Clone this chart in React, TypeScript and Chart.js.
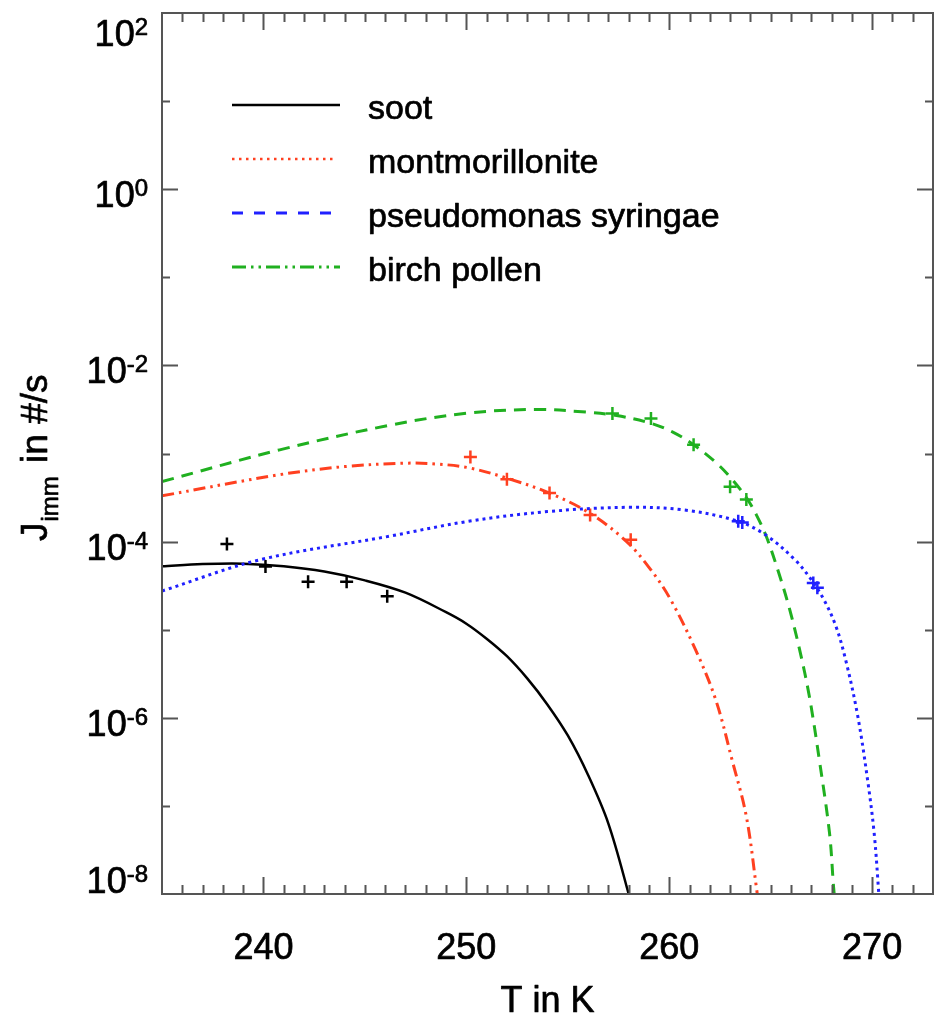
import React, { useEffect, useRef } from 'react';
import { Chart, registerables } from 'chart.js';

Chart.register(...registerables);

// ---------- data (T in K, J_imm in #/s) ----------
const sootCurveT = [235, 237, 239, 241, 243, 245, 247, 249, 250, 251, 252, 253, 254, 255, 256, 257, 258, 258.5];
const sootCurveJ = [5.25e-5, 5.56e-5, 5.62e-5, 5.25e-5, 4.57e-5, 3.63e-5, 2.63e-5, 1.58e-5, 1.17e-5, 7.9e-6, 5.0e-6, 2.8e-6, 1.41e-6, 6.3e-7, 2.24e-7, 6.3e-8, 1.0e-8, 3.5e-9];
const sootPointT = [238.2, 240.1, 242.2, 244.1, 246.1];
const sootPointJ = [9.4e-5, 5.2e-5, 3.5e-5, 3.5e-5, 2.4e-5];

const redCurveT = [235, 240.8, 244, 247, 248.5, 250.1, 252.0, 254.1, 256.1, 257.9, 259.0, 260.0, 261.3, 262.3, 263.1, 263.8, 264.3, 264.5];
const redCurveJ = [3.31e-4, 5.75e-4, 7.1e-4, 7.76e-4, 7.6e-4, 6.9e-4, 5.25e-4, 3.55e-4, 2.09e-4, 1.0e-4, 5.1e-5, 2.34e-5, 5.9e-6, 1.58e-6, 3.3e-7, 7.6e-8, 1.17e-8, 5e-9];
const redPointT = [250.2, 252.0, 254.1, 256.1, 258.1];
const redPointJ = [9.1e-4, 5.1e-4, 3.55e-4, 2.0e-4, 1.05e-4];

const greenCurveT = [235, 240.8, 246.2, 250.1, 253.5, 255.9, 257.4, 259.1, 260.2, 261.2, 262.3, 263.0, 263.8, 264.3, 264.8, 265.4, 265.9, 266.4, 266.9, 267.4, 267.9, 268.1, 268.25];
const greenCurveJ = [4.8e-4, 1.1e-3, 2.09e-3, 2.88e-3, 3.16e-3, 2.95e-3, 2.7e-3, 2.2e-3, 1.74e-3, 1.26e-3, 7.9e-4, 5.4e-4, 3.16e-4, 2.0e-4, 1.12e-4, 4.4e-5, 1.82e-5, 6.3e-6, 1.78e-6, 3.3e-7, 4.9e-8, 1.2e-8, 5e-9];
const greenPointT = [257.2, 259.1, 261.2, 263.0, 263.8];
const greenPointJ = [2.85e-3, 2.5e-3, 1.26e-3, 4.2e-4, 3.0e-4];

const blueCurveT = [235, 239.8, 246.2, 250.1, 254.0, 257.9, 260.7, 263.4, 264.8, 266.2, 267.0, 267.6, 268.2, 268.7, 269.3, 269.8, 270.1, 270.3, 270.4];
const blueCurveJ = [2.75e-5, 6.2e-5, 1.15e-4, 1.7e-4, 2.19e-4, 2.45e-4, 2.29e-4, 1.7e-4, 1.17e-4, 6.2e-5, 3.7e-5, 2.24e-5, 1.12e-5, 4.5e-6, 1.02e-6, 1.8e-7, 4.9e-8, 1.25e-8, 5e-9];
const bluePointT = [263.4, 263.6, 267.1, 267.3];
const bluePointJ = [1.7e-4, 1.65e-4, 3.4e-5, 3.0e-5];

const xTickLabels = [240, 250, 260, 270];
const yTickExponents = [2, 0, -2, -4, -6, -8];
const legendLabels = ['soot', 'montmorillonite', 'pseudomonas syringae', 'birch pollen'];

// ---------- styles ----------
const BLACK = '#000000';
const RED = '#ff4020';
const GREEN = '#20b020';
const BLUE = '#2020ff';
const AXIS = '#555555';
const FONT = '"Liberation Sans", Arial, Helvetica, sans-serif';

const legendStyles = [
  { color: BLACK, dash: [] as number[], width: 2.5, len: 108 },
  { color: RED, dash: [2.5, 4.5], width: 2.5, len: 103 },
  { color: BLUE, dash: [11, 11], width: 3, len: 101 },
  { color: GREEN, dash: [14, 5, 2.5, 5, 2.5, 5], width: 3, len: 108 },
];

const toXY = (t: number[], j: number[]) => t.map((x, i) => ({ x, y: j[i] }));

const curve = (t: number[], j: number[], color: string, dash: number[], width: number) => ({
  data: toXY(t, j),
  showLine: true,
  borderColor: color,
  backgroundColor: color,
  borderWidth: width,
  borderDash: dash,
  pointRadius: 0,
  tension: 0.35,
  clip: 0,
});

const marks = (t: number[], j: number[], color: string) => ({
  data: toXY(t, j),
  showLine: false,
  pointStyle: 'cross' as const,
  pointRadius: 6.5,
  pointBorderWidth: 2.5,
  borderColor: color,
  backgroundColor: color,
  clip: 0,
});

function heavyText(ctx: CanvasRenderingContext2D, s: string, x: number, y: number) {
  ctx.fillText(s, x, y);
  ctx.strokeText(s, x, y);
}

const framePlugin = {
  id: 'frameAndLabels',
  afterDraw(chart: any) {
    const ctx: CanvasRenderingContext2D = chart.ctx;
    const a = chart.chartArea;
    const xs = chart.scales.x;
    const ys = chart.scales.y;
    ctx.save();
    ctx.setLineDash([]);
    ctx.strokeStyle = AXIS;
    ctx.lineWidth = 2;
    ctx.lineCap = 'butt';
    ctx.strokeRect(a.left, a.top, a.right - a.left, a.bottom - a.top);

    // x ticks (inward, bottom and top)
    for (let t = Math.ceil(xs.min); t <= xs.max; t++) {
      const px = Math.round(xs.getPixelForValue(t)) + 0.5;
      if (px < a.left + 2 || px > a.right - 2) continue;
      const len = t % 10 === 0 ? 17 : 9;
      ctx.beginPath();
      ctx.moveTo(px, a.bottom);
      ctx.lineTo(px, a.bottom - len);
      ctx.moveTo(px, a.top);
      ctx.lineTo(px, a.top + len);
      ctx.stroke();
    }
    // y ticks (each decade; labelled decades longer)
    for (let e = -8; e <= 2; e++) {
      const py = Math.round(ys.getPixelForValue(Math.pow(10, e))) + 0.5;
      if (py < a.top + 2 || py > a.bottom - 2) continue;
      const len = e % 2 === 0 ? 16 : 8;
      ctx.beginPath();
      ctx.moveTo(a.left, py);
      ctx.lineTo(a.left + len, py);
      ctx.moveTo(a.right, py);
      ctx.lineTo(a.right - len, py);
      ctx.stroke();
    }

    ctx.fillStyle = '#000';
    ctx.strokeStyle = '#000';
    ctx.lineWidth = 0.7;
    ctx.lineJoin = 'round';
    // x tick labels
    ctx.font = `36px ${FONT}`;
    ctx.textAlign = 'center';
    ctx.textBaseline = 'alphabetic';
    xTickLabels.forEach((v) => {
      heavyText(ctx, String(v), xs.getPixelForValue(v), a.bottom + 65);
    });

    // y tick labels 10^e
    const xR = a.left - 14;
    yTickExponents.forEach((e) => {
      const py = ys.getPixelForValue(Math.pow(10, e));
      const cy = Math.min(Math.max(py + 5, a.top + 20), a.bottom - 14);
      const base = cy + 13;
      const expStr = String(e);
      ctx.font = `24px ${FONT}`;
      const wE = ctx.measureText(expStr).width;
      ctx.textAlign = 'right';
      heavyText(ctx, expStr, xR, base - 11);
      ctx.font = `36px ${FONT}`;
      heavyText(ctx, '10', xR - wE, base);
    });

    // x title
    ctx.font = `36px ${FONT}`;
    ctx.textAlign = 'center';
    heavyText(ctx, 'T in K', (a.left + a.right) / 2, 1012);

    // y title: J_imm in #/s
    ctx.save();
    ctx.translate(47, 541);
    ctx.rotate(-Math.PI / 2);
    ctx.textAlign = 'left';
    ctx.font = `37px ${FONT}`;
    heavyText(ctx, 'J', 0, 0);
    const wJ = ctx.measureText('J').width;
    ctx.font = `24px ${FONT}`;
    heavyText(ctx, 'imm', wJ + 1, 11);
    const wS = ctx.measureText('imm').width;
    ctx.font = `37px ${FONT}`;
    heavyText(ctx, ' in #/s', wJ + wS + 4, 0);
    ctx.restore();

    // legend
    legendLabels.forEach((lab, i) => {
      const st = legendStyles[i];
      const y = 105 + i * 54;
      ctx.save();
      ctx.strokeStyle = st.color;
      ctx.lineWidth = st.width;
      ctx.setLineDash(st.dash);
      ctx.beginPath();
      ctx.moveTo(232, y);
      ctx.lineTo(232 + st.len, y);
      ctx.stroke();
      ctx.restore();
      ctx.font = `34px ${FONT}`;
      ctx.textAlign = 'left';
      heavyText(ctx, lab, 368, y + 14);
    });
    ctx.restore();
  },
};

export default function App() {
  const ref = useRef<HTMLCanvasElement>(null);
  useEffect(() => {
    const prevMargin = document.body.style.margin;
    document.body.style.margin = '0';
    const chart = new Chart(ref.current as HTMLCanvasElement, {
      type: 'scatter',
      data: {
        datasets: [
          curve(blueCurveT, blueCurveJ, BLUE, [3, 4], 3),
          curve(redCurveT, redCurveJ, RED, [12, 5, 2.5, 5, 2.5, 5], 3),
          curve(greenCurveT, greenCurveJ, GREEN, [12, 8], 3),
          curve(sootCurveT, sootCurveJ, BLACK, [], 2.5),
          marks(sootPointT, sootPointJ, BLACK),
          marks(redPointT, redPointJ, RED),
          marks(greenPointT, greenPointJ, GREEN),
          marks(bluePointT, bluePointJ, BLUE),
        ] as any,
      },
      options: {
        animation: false,
        responsive: false,
        maintainAspectRatio: false,
        layout: { padding: { left: 162, right: 4, top: 13, bottom: 123 } },
        plugins: { legend: { display: false }, tooltip: { enabled: false } },
        scales: {
          x: { type: 'linear', min: 235, max: 273, display: false },
          y: { type: 'logarithmic', min: 1e-8, max: 1e2, display: false },
        },
      },
      plugins: [framePlugin],
    });
    return () => {
      chart.destroy();
      document.body.style.margin = prevMargin;
    };
  }, []);
  return (
    <div style={{ width: 942, height: 1017 }}>
      <canvas ref={ref} width={942} height={1017} style={{ display: 'block' }} />
    </div>
  );
}
